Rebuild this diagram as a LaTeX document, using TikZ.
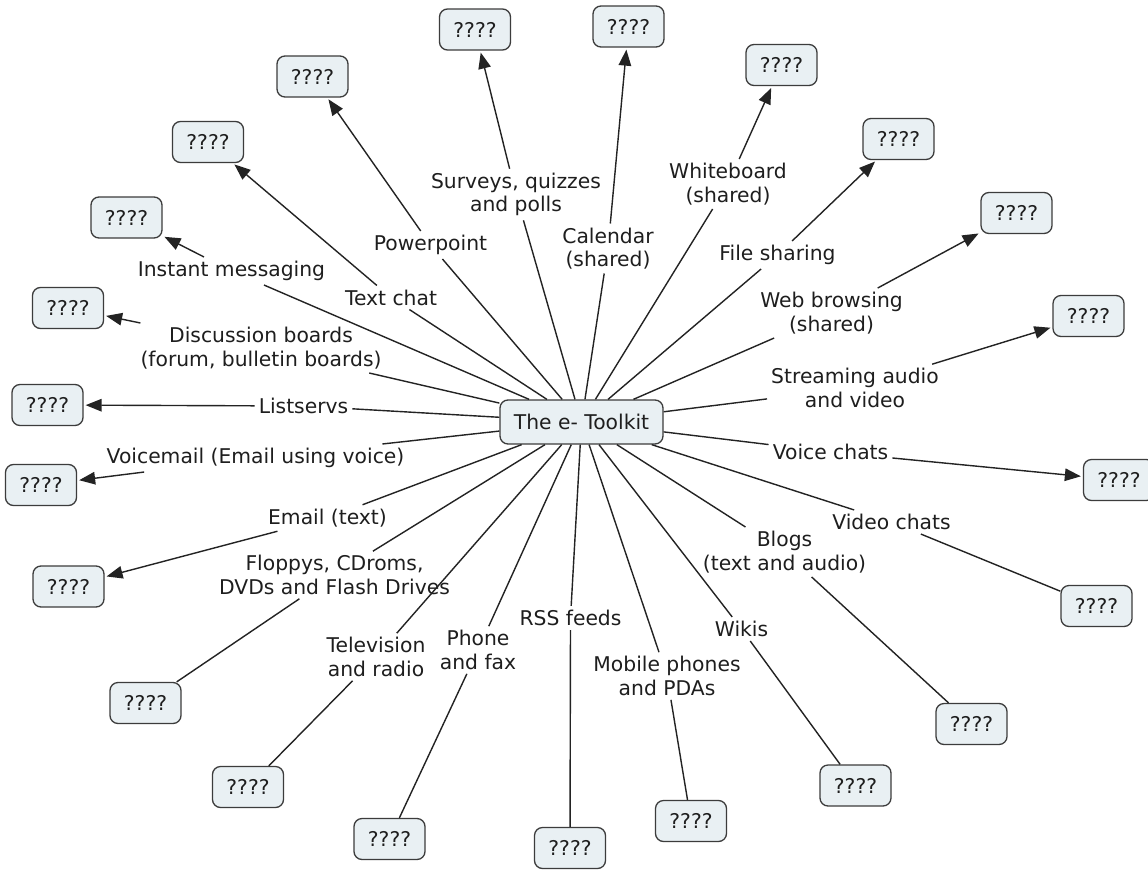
\documentclass[tikz,border=0pt]{standalone}
\usepackage{fontspec}
\setmainfont{DejaVu Sans}
\usetikzlibrary{arrows.meta}
\definecolor{boxfill}{RGB}{233,240,243}
\definecolor{boxdraw}{RGB}{60,60,60}
\definecolor{linecol}{RGB}{35,35,35}
\definecolor{txtcol}{RGB}{30,30,30}
\tikzset{
  every node/.style={font=\fontsize{20.3}{23.5}\selectfont, text=txtcol},
  concept/.style={draw=boxdraw, fill=boxfill, rounded corners=8pt, line width=1.3pt,
    minimum width=71pt, minimum height=41pt, inner sep=0pt},
  mainconcept/.style={concept, minimum width=163pt, minimum height=44pt},
  lab/.style={align=center, inner sep=4pt},
  link/.style={draw=linecol, line width=1.4pt},
  arrlink/.style={link, -{Triangle[length=16pt,width=12.5pt]}, shorten >=2pt},
}
\begin{document}
\begin{tikzpicture}[x=1pt,y=-1pt]
\useasboundingbox (0,0) rectangle (1148,870);
\clip (0,0) rectangle (1148,870);
\fill[white] (0,0) rectangle (1148,870);

% center
\node[mainconcept] (c) at (581.5,422) {The e- Toolkit};

% labels
\node[lab] (l1) at (231.5,271) {Instant messaging};
\node[lab] (l2) at (261,348) {Discussion boards\\(forum, bulletin boards)};
\node[lab] (l3) at (303.5,406) {Listservs};
\node[lab] (l4) at (255.5,458) {Voicemail (Email using voice)};
\node[lab] (l5) at (327.5,518) {Email (text)};
\node[lab] (l6) at (334.5,575) {Floppys, CDroms,\\DVDs and Flash Drives};
\node[lab] (l7) at (376,657) {Television\\and radio};
\node[lab] (l8) at (478,650) {Phone\\and fax};
\node[lab] (l9) at (570.5,618) {RSS feeds};
\node[lab] (l10) at (667,676) {Mobile phones\\and PDAs};
\node[lab] (l11) at (741.5,629) {Wikis};
\node[lab] (l12) at (784.5,552) {Blogs\\(text and audio)};
\node[lab] (l13) at (891.5,522) {Video chats};
\node[lab] (l14) at (830.5,452) {Voice chats};
\node[lab] (l15) at (855,388) {Streaming audio\\and video};
\node[lab] (l16) at (831.5,313) {Web browsing\\(shared)};
\node[lab] (l17) at (777.5,255) {File sharing};
\node[lab] (l18) at (728,184) {Whiteboard\\(shared)};
\node[lab] (l19) at (608,248.5) {Calendar\\(shared)};
\node[lab] (l20) at (516,194.5) {Surveys, quizzes\\and polls};
\node[lab] (l21) at (430.5,245) {Powerpoint};
\node[lab] (l22) at (391,297.5) {Text chat};

% targets
\node[concept] (t1) at (126.5,217.5) {????};
\node[concept] (t2) at (68,308) {????};
\node[concept] (t3) at (47.5,405) {????};
\node[concept] (t4) at (41,485) {????};
\node[concept] (t5) at (68.5,586.5) {????};
\node[concept] (t6) at (145.5,703) {????};
\node[concept] (t7) at (248,787) {????};
\node[concept] (t8) at (389.5,839) {????};
\node[concept] (t9) at (570,848) {????};
\node[concept] (t10) at (691,821) {????};
\node[concept] (t11) at (855.5,785.5) {????};
\node[concept] (t12) at (971.5,724) {????};
\node[concept] (t13) at (1096.5,606) {????};
\node[concept] (t14) at (1119,480) {????};
\node[concept] (t15) at (1088.5,316) {????};
\node[concept] (t16) at (1016.5,213) {????};
\node[concept] (t17) at (898.5,139) {????};
\node[concept] (t18) at (781.5,65) {????};
\node[concept] (t19) at (628.5,26.5) {????};
\node[concept] (t20) at (475,29.5) {????};
\node[concept] (t21) at (312.5,76.5) {????};
\node[concept] (t22) at (208,142) {????};

% connectors center -> labels
\foreach \i in {1,...,22} {
  \draw[link] (c) -- (l\i);
}
% labels -> targets with arrows
\foreach \i in {1,2,3,4,5,14,15,16,17,18,19,20,21,22} {
  \draw[arrlink] (l\i) -- (t\i);
}
% labels -> targets without arrows
\foreach \i in {6,7,8,9,10,11,12,13} {
  \draw[link] (l\i) -- (t\i);
}
\end{tikzpicture}
\end{document}
